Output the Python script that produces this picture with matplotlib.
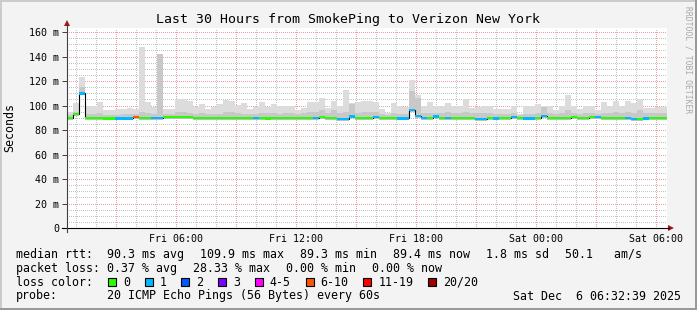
import numpy as np
import pandas as pd
import matplotlib
matplotlib.use("Agg")
import matplotlib.pyplot as plt
import matplotlib.dates as mdates
from matplotlib.lines import Line2D
from matplotlib.patches import Polygon, Rectangle
from matplotlib.ticker import FixedLocator, FuncFormatter

W, H = 697, 310
MONO = "DejaVu Sans Mono"

# ---- data (18 minute bins) ----
start = pd.Timestamp("2025-12-05 00:32:39")
bin_minutes = 18

median_ms = [
    90.0, 93.0, 110.0, 90.0, 90.0, 90.0, 89.5, 89.5, 89.5, 89.5,
    89.5, 90.5, 90.0, 90.0, 90.0, 90.0, 90.5, 90.5, 90.5, 90.5,
    90.5, 90.0, 90.0, 90.0, 90.0, 90.0, 90.0, 90.0, 90.0, 90.0,
    90.0, 90.0, 90.0, 89.5, 90.0, 90.0, 90.0, 90.0, 90.0, 90.0,
    90.0, 90.0, 90.5, 90.0, 90.0, 89.0, 89.0, 91.0, 90.0, 90.0,
    90.0, 90.5, 90.0, 90.0, 90.0, 89.5, 89.5, 96.5, 91.5, 90.0,
    90.0, 91.0, 90.0, 90.0, 90.0, 90.0, 90.0, 90.0, 89.0, 89.0,
    90.0, 89.5, 90.0, 90.0, 90.5, 90.0, 89.5, 89.5, 90.0, 91.5,
    90.0, 90.0, 90.0, 90.0, 90.5, 90.0, 90.0, 90.5, 90.5, 90.0,
    90.0, 90.0, 90.0, 90.0, 89.0, 89.0, 89.5, 90.0, 90.0, 90.0,
]
smoke_max_ms = [
    95.0, 102.0, 123.5, 100.0, 100.0, 102.5, 96.0, 96.0, 97.0, 97.0,
    98.0, 97.0, 148.0, 103.0, 99.0, 142.0, 97.0, 97.0, 105.5, 105.0,
    104.0, 99.0, 101.5, 97.0, 99.0, 101.0, 104.5, 103.5, 100.5, 102.0,
    97.5, 98.5, 102.5, 99.0, 101.5, 100.0, 100.0, 99.5, 96.0, 98.0,
    102.5, 102.5, 106.5, 98.0, 104.0, 100.0, 113.0, 102.0, 102.5, 104.0,
    104.0, 103.0, 97.0, 94.0, 102.0, 100.0, 99.0, 120.8, 108.5, 100.0,
    102.5, 100.0, 100.0, 102.0, 100.0, 100.0, 105.0, 98.0, 99.0, 100.0,
    100.0, 97.0, 97.0, 97.0, 100.0, 93.0, 100.0, 100.0, 101.5, 100.0,
    100.0, 96.0, 100.0, 108.5, 99.5, 97.0, 100.0, 100.0, 96.0, 102.5,
    100.0, 104.0, 100.0, 104.0, 102.0, 105.5, 98.0, 98.0, 99.0, 99.0,
]
smoke_mid_ms = [
    92.0, 95.0, 115.0, 93.0, 93.0, 94.0, 92.0, 92.0, 92.0, 93.0,
    93.0, 93.0, 95.0, 94.0, 93.0, 142.0, 93.0, 93.0, 95.0, 95.0,
    94.0, 93.0, 94.0, 93.0, 93.0, 93.0, 95.0, 95.0, 94.0, 93.0,
    93.0, 93.0, 94.0, 94.0, 94.0, 93.0, 94.0, 94.0, 93.0, 94.0,
    95.0, 95.0, 96.0, 94.0, 96.0, 94.0, 95.0, 101.0, 94.0, 95.0,
    95.0, 95.0, 93.0, 92.0, 94.0, 93.0, 93.0, 112.0, 106.0, 94.0,
    94.0, 94.0, 94.0, 95.0, 94.0, 94.0, 95.0, 94.0, 94.0, 94.0,
    94.0, 93.0, 93.0, 93.0, 94.0, 92.0, 93.0, 93.0, 94.0, 99.0,
    94.0, 93.0, 94.0, 96.0, 94.0, 93.0, 94.0, 94.0, 93.0, 94.0,
    94.0, 95.0, 94.0, 95.0, 94.0, 96.0, 94.0, 94.0, 94.0, 94.0,
]
# index into loss_labels / loss_colors
loss_class = [
    0, 0, 1, 0, 0, 0, 0, 0, 1, 1,
    1, 5, 0, 0, 1, 1, 0, 0, 0, 0,
    0, 0, 0, 0, 0, 0, 0, 0, 0, 0,
    0, 1, 0, 0, 0, 0, 0, 0, 0, 0,
    0, 1, 0, 0, 0, 1, 1, 1, 0, 0,
    0, 1, 0, 0, 0, 1, 1, 1, 1, 1,
    0, 1, 0, 1, 0, 0, 0, 0, 1, 1,
    0, 1, 0, 0, 1, 0, 1, 1, 0, 1,
    0, 0, 0, 0, 0, 0, 0, 0, 1, 0,
    0, 0, 0, 1, 1, 0, 1, 0, 0, 0,
]

loss_labels = ["0", "1", "2", "3", "4-5", "6-10", "11-19", "20/20"]
loss_colors = ["#26ff00", "#00b8ff", "#0059ff", "#7e00ff",
               "#ff00ff", "#ff5500", "#ff0000", "#a00000"]

y_ticks = [0, 20, 40, 60, 80, 100, 120, 140, 160]
y_tick_labels = ["0", "20 m", "40 m", "60 m", "80 m", "100 m", "120 m", "140 m", "160 m"]

median_stats = ["90.3 ms avg", "109.9 ms max", "89.3 ms min", "89.4 ms now",
                "1.8 ms sd", "50.1   am/s"]
loss_stats = ["0.37 % avg", "28.33 % max", "0.00 % min", "0.00 % now"]


def fx(x):
    return x / W


def fy(y):
    return 1 - y / H


fig = plt.figure(figsize=(W / 100, H / 100), dpi=100)
fig.patch.set_facecolor("#f3f3f3")

ax = fig.add_axes([fx(67), fy(228), 600 / W, 200 / H])
ax.set_facecolor("white")
for s in ax.spines.values():
    s.set_visible(False)

n = len(median_ms)
edges = mdates.date2num(pd.date_range(start, periods=n + 1, freq=f"{bin_minutes}min"))
left = edges[:-1]
width = edges[1] - edges[0]
med = np.array(median_ms)
top = np.array(smoke_max_ms)
mid = np.array(smoke_mid_ms)
low = med - 1.5

end = start + pd.Timedelta(hours=30)
x0, x1 = mdates.date2num(start), mdates.date2num(end)
ax.set_xlim(x0, x1)
ax.set_ylim(0, 163.3)

# grid: gray every hour / 5 ms, red every 3 hours / 20 ms
hours = pd.date_range(start.ceil("h"), end, freq="h")
grid_kw = dict(lw=0.72, ls=(0, (1, 2)), antialiased=False)
for h in hours:
    major = h.hour % 3 == 0
    ax.axvline(mdates.date2num(h), color="#f0a0a0" if major else "#c4c4c4",
               zorder=1 if major else 0, **grid_kw)
for v in range(5, 165, 5):
    major = v % 20 == 0
    ax.axhline(v, color="#f0a0a0" if major else "#c4c4c4",
               zorder=1 if major else 0, **grid_kw)

ax.bar(left, top - low, bottom=low, width=width, align="edge",
       color="#dcdcdc", lw=0, zorder=2)
ax.bar(left, mid - low, bottom=low, width=width, align="edge",
       color="#c8c8c8", lw=0, zorder=3)
ax.stairs(med, edges, baseline=None, color="black", lw=0.8, zorder=4)
ax.bar(left, 2.0, bottom=med - 1.0, width=width, align="edge",
       color=[loss_colors[c] for c in loss_class], lw=0, zorder=5)

ax.xaxis.set_major_locator(mdates.HourLocator(byhour=range(0, 24, 6)))
ax.xaxis.set_major_formatter(FuncFormatter(
    lambda v, p: mdates.num2date(v).strftime("%a %H:%M")))
ax.yaxis.set_major_locator(FixedLocator(y_ticks))
ax.set_yticklabels(y_tick_labels)

ax.tick_params(axis="x", which="both", length=0, pad=4, labelsize=7.2)
ax.tick_params(axis="y", which="major", length=3.6, width=0.72, pad=2,
               labelsize=7.2, color="#404040")
for lab in ax.get_xticklabels() + ax.get_yticklabels():
    lab.set_family(MONO)

# axis lines and arrows
fig.add_artist(Line2D([fx(62), fx(669)], [fy(228), fy(228)], color="black", lw=0.8))
fig.add_artist(Line2D([fx(67), fx(67)], [fy(232), fy(25)], color="#404040", lw=0.8))
fig.add_artist(Polygon([[fx(668), fy(225)], [fx(668), fy(231)], [fx(674), fy(228)]],
                       closed=True, color="#a01818", lw=0))
fig.add_artist(Polygon([[fx(64), fy(26)], [fx(70), fy(26)], [fx(67), fy(20)]],
                       closed=True, color="#a01818", lw=0))

# frame shading
fig.add_artist(Rectangle((0, fy(2)), 1, 2 / H, color="#cbcbcb", lw=0))
fig.add_artist(Rectangle((0, 0), 2 / W, 1, color="#cbcbcb", lw=0))
fig.add_artist(Rectangle((0, 0), 1, 2 / H, color="#999999", lw=0))
fig.add_artist(Rectangle((1 - 2 / W, 0), 2 / W, 1, color="#999999", lw=0))

# texts
fig.text(fx(348.5), fy(19), "Last 30 Hours from SmokePing to Verizon New York",
         family=MONO, fontsize=9.5, ha="center", va="center")
fig.text(fx(10), fy(128), "Seconds", family=MONO, fontsize=8.4,
         rotation=90, ha="center", va="center")
fig.text(fx(688), fy(60), "RRDTOOL / TOBI OETIKER", family=MONO, fontsize=5.8,
         rotation=270, ha="center", va="center", color="#a8a8a8")

LEG = 8.4
CW = 7.02
rows = [254.3, 268.3, 282.3, 296.0]

fig.text(fx(16), fy(rows[0]), "median rtt:", family=MONO, fontsize=LEG, va="center")
x = 107.3
for s in median_stats:
    fig.text(fx(x), fy(rows[0]), s, family=MONO, fontsize=LEG, va="center")
    x += len(s) * CW + 15.8

fig.text(fx(16), fy(rows[1]), "packet loss:", family=MONO, fontsize=LEG, va="center")
x = 107.3
for s in loss_stats:
    fig.text(fx(x), fy(rows[1]), s, family=MONO, fontsize=LEG, va="center")
    x += len(s) * CW + 15.8

fig.text(fx(16), fy(rows[2]), "loss color:", family=MONO, fontsize=LEG, va="center")
x = 108.0
for lab, col in zip(loss_labels, loss_colors):
    fig.add_artist(Rectangle((fx(x), fy(rows[2] + 4)), 8 / W, 8 / H,
                             facecolor=col, edgecolor="black", lw=0.8))
    fig.text(fx(x + 15), fy(rows[2]), lab, family=MONO, fontsize=LEG, va="center")
    x += 36.7 + CW * (len(lab) - 1)

fig.text(fx(16), fy(rows[3]), "probe:", family=MONO, fontsize=LEG, va="center")
fig.text(fx(107.3), fy(rows[3]), "20 ICMP Echo Pings (56 Bytes) every 60s",
         family=MONO, fontsize=LEG, va="center")
fig.text(fx(681), fy(rows[3]), "Sat Dec  6 06:32:39 2025",
         family=MONO, fontsize=LEG, va="center", ha="right")

fig.savefig("out.png", dpi=100, facecolor=fig.get_facecolor())
